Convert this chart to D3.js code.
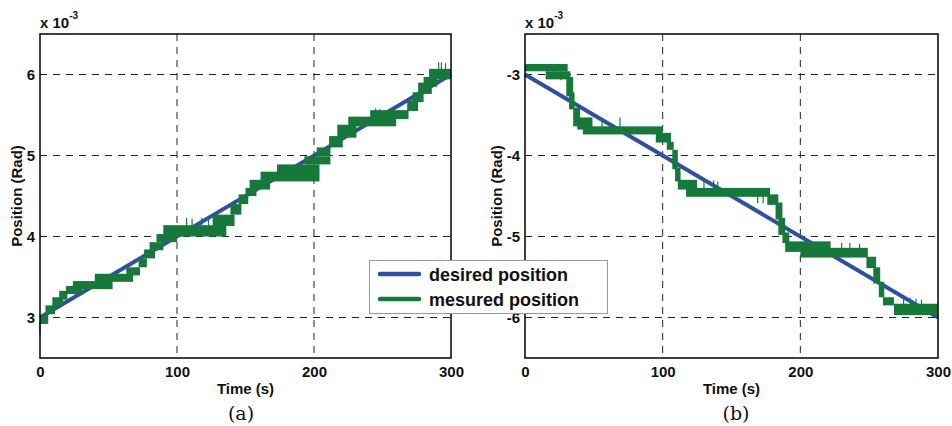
<!DOCTYPE html>
<html>
<head>
<meta charset="utf-8">
<script src="https://cdn.jsdelivr.net/npm/d3@7/dist/d3.min.js"></script>
<style>
  html, body { margin: 0; padding: 0; background: #fff; }
  svg { display: block; }
</style>
</head>
<body>
<svg id="chart" width="952" height="426"></svg>
<script>
// ---------------- DATA ----------------
const timeTicks = [0, 100, 200, 300];
const leftYTicks = [3, 4, 5, 6];
const rightYTicks = [-6, -5, -4, -3];
const leftYDomain = [2.5, 6.5];
const rightYDomain = [-6.5, -2.5];

// desired position (straight reference trajectories), [time, value x1e-3]
const desiredA = [[0, 3.0], [300, 6.0]];
const desiredB = [[0, -3.0], [300, -6.0]];

// measured position: quantized plateaus [t0, t1, low, high]
const measuredA = [
  [0, 6, 2.92, 3.03], [4, 11, 3.04, 3.15], [9, 17, 3.14, 3.25], [14, 20, 3.22, 3.33],
  [19, 31, 3.29, 3.39], [24, 53, 3.35, 3.45], [40, 68, 3.44, 3.54], [63, 73, 3.52, 3.62],
  [72, 78, 3.62, 3.73], [76, 84, 3.73, 3.84], [80, 90, 3.83, 3.93], [85, 100, 3.93, 4.03],
  [90, 136, 4.00, 4.14], [126, 142, 4.13, 4.27], [139, 147, 4.27, 4.40], [145, 152, 4.40, 4.52],
  [150, 158, 4.50, 4.60], [153, 168, 4.58, 4.70], [161, 204, 4.68, 4.80], [173, 204, 4.79, 4.89],
  [193, 212, 4.89, 4.99], [202, 212, 4.99, 5.10], [211, 221, 5.10, 5.24], [217, 231, 5.22, 5.38],
  [225, 260, 5.36, 5.48], [241, 269, 5.45, 5.56], [268, 276, 5.55, 5.68], [272, 280, 5.66, 5.78],
  [276, 286, 5.76, 5.90], [280, 290, 5.85, 5.97], [284, 300, 5.94, 6.07]
];
const spikesA = [
  [0, 2.80, 2.95], [107, 4.13, 4.23], [111, 4.13, 4.22], [118, 4.13, 4.23], [123, 4.13, 4.21],
  [245, 5.47, 5.58], [248, 5.47, 5.57], [291, 6.05, 6.15], [293, 6.05, 6.15], [296, 6.05, 6.14]
];

const measuredB = [
  [0, 31, -2.96, -2.87], [15, 33, -3.06, -2.96], [30, 35, -3.27, -3.03], [32, 36, -3.43, -3.22],
  [35, 40, -3.64, -3.41], [38, 49, -3.68, -3.53], [42, 100, -3.74, -3.64], [95, 106, -3.84, -3.72],
  [103, 108, -3.93, -3.83], [107, 111, -4.17, -3.93], [109, 113, -4.32, -4.15], [111, 125, -4.42, -4.30],
  [117, 178, -4.51, -4.40], [176, 184, -4.61, -4.48], [182, 187, -4.79, -4.58], [184, 189, -4.98, -4.77],
  [187, 192, -5.08, -4.95], [189, 222, -5.19, -5.06], [200, 249, -5.26, -5.14], [248, 255, -5.39, -5.25],
  [253, 258, -5.58, -5.38], [257, 261, -5.75, -5.56], [260, 268, -5.85, -5.75], [268, 300, -5.97, -5.83]
];
const spikesB = [
  [22, -3.06, -2.95], [26, -3.07, -2.95], [56, -3.66, -3.54], [69, -3.66, -3.53],
  [130, -4.45, -4.30], [137, -4.45, -4.31], [140, -4.45, -4.32], [169, -4.48, -4.59], [173, -4.48, -4.59],
  [230, -5.20, -5.08], [236, -5.20, -5.08], [243, -5.20, -5.09],
  [275, -5.88, -5.77], [280, -5.88, -5.76], [284, -5.88, -5.77], [288, -5.90, -5.78]
];

const legendLabels = ["desired position", "mesured position"];
const panelLabels = ["(a)", "(b)"];

// ---------------- DRAW ----------------
const BLUE = "#2f4fa2";
const GREEN = "#16793b";
const SANS = "'Liberation Sans', Arial, Helvetica, sans-serif";
const SERIF = "'DejaVu Serif', 'Liberation Serif', serif";
const svg = d3.select("#chart");
svg.append("rect").attr("width", 952).attr("height", 426).attr("fill", "#fff");

function panel(cfg) {
  const x = d3.scaleLinear().domain([0, 300]).range([cfg.x0, cfg.x1]);
  const y = d3.scaleLinear().domain(cfg.yDomain).range([358, 34]);
  const g = svg.append("g");

  // grid
  g.selectAll(".vg").data(timeTicks.filter(t => t > 0 && t < 300)).join("line")
    .attr("x1", d => x(d)).attr("x2", d => x(d)).attr("y1", y.range()[1]).attr("y2", y.range()[0])
    .attr("stroke", "#222").attr("stroke-width", 1).attr("stroke-dasharray", "7,6");
  g.selectAll(".hg").data(cfg.yTicks).join("line")
    .attr("x1", x(0)).attr("x2", x(300)).attr("y1", d => y(d)).attr("y2", d => y(d))
    .attr("stroke", "#222").attr("stroke-width", 1).attr("stroke-dasharray", "7,6");

  // desired
  g.append("path").datum(cfg.desired)
    .attr("d", d3.line().x(d => x(d[0])).y(d => y(d[1])))
    .attr("fill", "none").attr("stroke", BLUE).attr("stroke-width", 4);

  // measured plateaus
  g.selectAll(".m").data(cfg.measured).join("rect")
    .attr("x", d => x(d[0])).attr("width", d => x(d[1]) - x(d[0]))
    .attr("y", d => y(Math.max(d[2], d[3]))).attr("height", d => Math.abs(y(d[2]) - y(d[3])))
    .attr("fill", GREEN);
  g.selectAll(".s").data(cfg.spikes).join("line")
    .attr("x1", d => x(d[0])).attr("x2", d => x(d[0]))
    .attr("y1", d => y(d[1])).attr("y2", d => y(d[2]))
    .attr("stroke", GREEN).attr("stroke-width", 1.2);

  // axes box
  g.append("rect").attr("x", x(0)).attr("y", y.range()[1])
    .attr("width", x(300) - x(0)).attr("height", y.range()[0] - y.range()[1])
    .attr("fill", "none").attr("stroke", "#000").attr("stroke-width", 1.5);

  const ax = g.append("g").attr("transform", `translate(0,${y.range()[0]})`)
    .call(d3.axisBottom(x).tickValues(timeTicks).tickSize(0).tickPadding(8).tickFormat(d => String(d)));
  const ay = g.append("g").attr("transform", `translate(${x(0)},0)`)
    .call(d3.axisLeft(y).tickValues(cfg.yTicks).tickSize(0).tickPadding(5).tickFormat(d => String(d)));
  [ax, ay].forEach(a => {
    a.select(".domain").remove();
    a.selectAll("text").attr("font-size", 15).attr("font-weight", "bold").attr("fill", "#111")
      .style("font-family", SANS);
  });

  // exponent
  const ex = g.append("text").attr("x", x(0)).attr("y", 28).style("font-family", SANS)
    .attr("font-size", 15).attr("font-weight", "bold").attr("fill", "#111");
  ex.append("tspan").text("x 10");
  ex.append("tspan").attr("dy", -9).attr("font-size", 10).text("-3");

  // axis labels
  g.append("text").attr("x", (x(0) + x(300)) / 2).attr("y", 394).style("font-family", SANS)
    .attr("text-anchor", "middle").attr("font-size", 15).attr("font-weight", "bold").attr("fill", "#111")
    .text("Time (s)");
  g.append("text").attr("transform", `translate(${cfg.ylabX},196) rotate(-90)`).style("font-family", SANS)
    .attr("text-anchor", "middle").attr("font-size", 15).attr("font-weight", "bold").attr("fill", "#111")
    .text("Position (Rad)");
  g.append("text").attr("x", cfg.panelX).attr("y", 420)
    .attr("text-anchor", "middle").attr("font-size", 19).attr("fill", "#111")
    .style("font-family", SERIF)
    .text(cfg.panelLabel);
}

panel({ x0: 40, x1: 451, yDomain: leftYDomain, yTicks: leftYTicks, desired: desiredA,
        measured: measuredA, spikes: spikesA, ylabX: 22, panelX: 241, panelLabel: panelLabels[0] });
panel({ x0: 525, x1: 938, yDomain: rightYDomain, yTicks: rightYTicks, desired: desiredB,
        measured: measuredB, spikes: spikesB, ylabX: 502, panelX: 736, panelLabel: panelLabels[1] });

// legend
const lg = svg.append("g");
lg.append("rect").attr("x", 369.5).attr("y", 260.5).attr("width", 238).attr("height", 53)
  .attr("fill", "#fff").attr("stroke", "#999").attr("stroke-width", 1);
const legendColors = [BLUE, GREEN];
legendLabels.forEach((lab, i) => {
  const yy = 274 + i * 25;
  lg.append("line").attr("x1", 380).attr("x2", 419).attr("y1", yy).attr("y2", yy)
    .attr("stroke", legendColors[i]).attr("stroke-width", 4.5).attr("stroke-linecap", "round");
  lg.append("text").attr("x", 429).attr("y", yy + 7).style("font-family", SANS)
    .attr("font-size", 18).attr("font-weight", "bold").attr("fill", "#111").text(lab);
});
</script>
</body>
</html>
